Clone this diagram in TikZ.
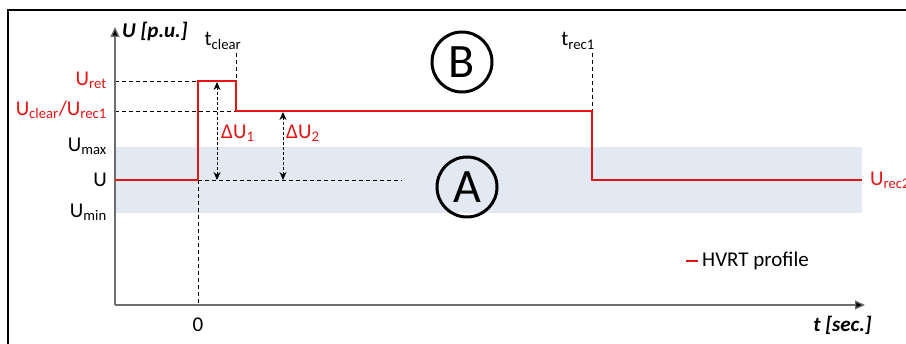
\documentclass[tikz,border=0pt]{standalone}
\usepackage{fontspec}
\setmainfont{Carlito}
\usetikzlibrary{arrows.meta}
\definecolor{hvrtred}{RGB}{228,20,20}
\definecolor{bandblue}{RGB}{226,233,242}
\definecolor{axisgray}{RGB}{110,110,110}
\begin{document}
\begin{tikzpicture}[x=1pt,y=-1pt,
  lbl/.style={font=\fontsize{21}{23}\selectfont, inner sep=1pt},
  redlbl/.style={lbl, text=hvrtred},
  guide/.style={black, line width=0.8pt, dash pattern=on 4pt off 3pt},
  profile/.style={hvrtred, line width=2.6pt},
  axisline/.style={axisgray, line width=1.3pt, -{Triangle[length=10pt,width=9pt,fill=black]}},
  delta/.style={black, line width=1pt, dash pattern=on 3pt off 2pt, {Stealth[length=8pt,width=7pt]}-{Stealth[length=8pt,width=7pt]}},
  circ/.style={circle, draw=black, line width=3pt, minimum size=60pt, inner sep=0pt, font=\fontsize{48}{50}\selectfont}
]
\useasboundingbox (0,0) rectangle (906,344);
% frame
\draw[black, line width=1.3pt] (8,344) -- (8,10) -- (906,10);
% band
\fill[bandblue] (115,147) rectangle (862,213);
% coordinates
\coordinate (O) at (115,305);
\coordinate (ytop) at (115,27);
\coordinate (xend) at (865,305);
\coordinate (p0) at (115,180);
\coordinate (p1) at (198,180);
\coordinate (p2) at (198,81);
\coordinate (p3) at (236,81);
\coordinate (p4) at (236,111);
\coordinate (p5) at (592,111);
\coordinate (p6) at (592,180);
\coordinate (p7) at (862,180);
\coordinate (ylret) at (115,81);
\coordinate (ylclr) at (115,111);
\coordinate (t0b) at (198,305);
\coordinate (tclrtop) at (236,53);
\coordinate (trectop) at (592,53);
\coordinate (uend) at (402,180);
\coordinate (d1top) at (217,82);
\coordinate (d1bot) at (217,180);
\coordinate (d2top) at (283,112);
\coordinate (d2bot) at (283,180);
% guides
\draw[guide] (ylret) -- (p2);
\draw[guide] (ylclr) -- (p4);
\draw[guide] (p1) -- (uend);
\draw[guide] (p1) -- (t0b);
\draw[guide] (tclrtop) -- (p3);
\draw[guide] (trectop) -- (p5);
% axes
\draw[axisline] (O) -- (ytop);
\draw[axisline] (O) -- (xend);
% profile
\draw[profile] (p0) -- (p1) -- (p2) -- (p3) -- (p4) -- (p5) -- (p6) -- (p7);
% delta arrows
\draw[delta] (d1top) -- (d1bot);
\draw[delta] (d2top) -- (d2bot);
\node[redlbl, anchor=west] (du1) at (220,133) {ΔU\textsubscript{1}};
\node[redlbl, anchor=west] (du2) at (285,133) {ΔU\textsubscript{2}};
% axis labels
\node[lbl, anchor=west, font=\fontsize{21}{23}\selectfont\bfseries\itshape] (ylab) at (121,31) {U [p.u.]};
\node[lbl, anchor=east, font=\fontsize{21}{23}\selectfont\bfseries\itshape] (xlab) at (873,325) {t [sec.]};
\node[lbl] (zero) at (198,325) {0};
\node[lbl, anchor=base] (tclr) at (223,46) {t\textsubscript{clear}};
\node[lbl, anchor=base] (trec) at (578,46) {t\textsubscript{rec1}};
% y labels
\node[redlbl, anchor=east] (uret) at (108,80) {U\textsubscript{ret}};
\node[redlbl, anchor=east] (uclr) at (108,110) {U\textsubscript{clear}/U\textsubscript{rec1}};
\node[lbl, anchor=east] (umax) at (108,146) {U\textsubscript{max}};
\node[lbl, anchor=east] (u) at (108,180) {U};
\node[lbl, anchor=east] (umin) at (108,212) {U\textsubscript{min}};
\node[redlbl, anchor=west] (urec2) at (869,180) {U\textsubscript{rec2}};
% regions
\node[circ] (B) at (462,62) {B};
\node[circ] (A) at (467,187) {A};
% legend
\coordinate (lg1) at (686,261);
\coordinate (lg2) at (698,261);
\draw[profile] (lg1) -- (lg2);
\node[lbl, anchor=west] (leg) at (701,261) {HVRT profile};
\end{tikzpicture}
\end{document}
